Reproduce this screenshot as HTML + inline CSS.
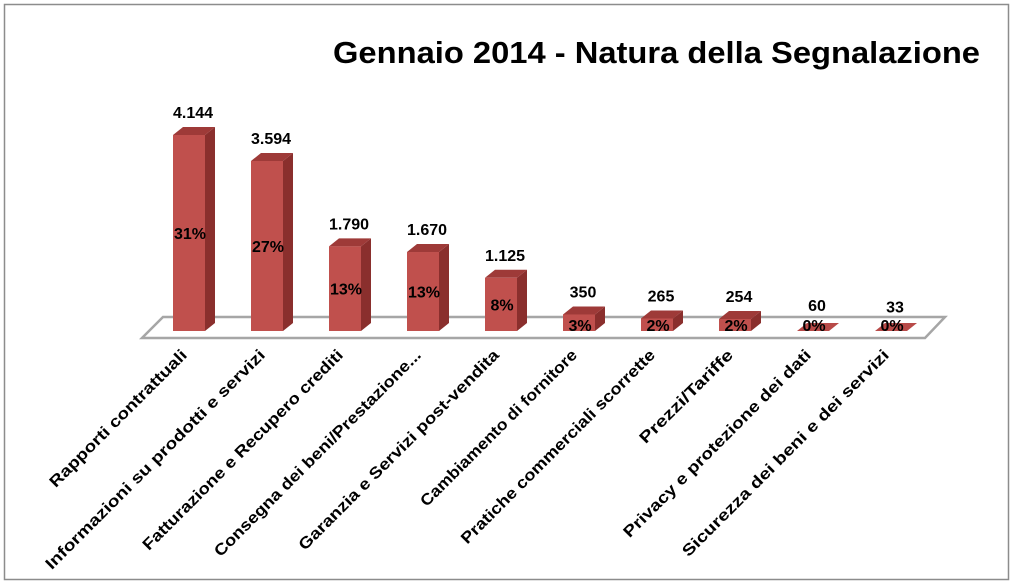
<!DOCTYPE html>
<html><head><meta charset="utf-8"><style>
html,body{margin:0;padding:0;background:#fff;}
svg{display:block;}
text{font-family:"Liberation Sans",sans-serif;font-weight:bold;fill:#000;}
</style></head><body>
<svg width="1014" height="588" viewBox="0 0 1014 588" xmlns="http://www.w3.org/2000/svg">
<rect x="4.5" y="4.5" width="1004" height="575" fill="#fff" stroke="#8c8c8c" stroke-width="1.5"/>
<text x="980" y="63" text-anchor="end" font-size="31" textLength="647" lengthAdjust="spacingAndGlyphs">Gennaio 2014 - Natura della Segnalazione</text>
<polygon points="163,317 945,317 925,338 142,338" fill="#fff" stroke="#a6a6a6" stroke-width="2.5"/>
<g id="bars"></g>
<g id="labels"></g>
</svg>
<script>
var vals=[4144,3594,1790,1670,1125,350,265,254,60,33];
var vl=["4.144","3.594","1.790","1.670","1.125","350","265","254","60","33"];
var pc=["31%","27%","13%","13%","8%","3%","2%","2%","0%","0%"];
var names=["Rapporti contrattuali","Informazioni su prodotti e servizi","Fatturazione e Recupero crediti","Consegna dei beni/Prestazione...","Garanzia e Servizi post-vendita","Cambiamento di fornitore","Pratiche commerciali scorrette","Prezzi/Tariffe","Privacy e protezione dei dati","Sicurezza dei beni e dei servizi"];
var ns="http://www.w3.org/2000/svg",g=document.getElementById("bars"),L=document.getElementById("labels");
function el(t,a,p,txt){var e=document.createElementNS(ns,t);for(var k in a)e.setAttribute(k,a[k]);if(txt)e.textContent=txt;p.appendChild(e);return e;}
for(var i=0;i<10;i++){
 var x=173+i*78,w=32,b=331,h=Math.max(vals[i]*0.0473,1),t=b-h,dx=10,dy=8;
 if(i>=8){
  el("polygon",{points:(x)+","+b+" "+(x+w)+","+b+" "+(x+w+dx)+","+(b-dy)+" "+(x+dx)+","+(b-dy),fill:"#b84a48"},g);
 } else {
 el("polygon",{points:(x+w)+","+t+" "+(x+w+dx)+","+(t-dy)+" "+(x+w+dx)+","+(b-dy)+" "+(x+w)+","+b,fill:"#8a2f2d"},g);
 el("polygon",{points:x+","+t+" "+(x+dx)+","+(t-dy)+" "+(x+w+dx)+","+(t-dy)+" "+(x+w)+","+t,fill:"#9e3a38"},g);
 el("rect",{x:x,y:t,width:w,height:h,fill:"#c0504d"},g);
 }
 var cx=x+w/2+4;
 el("text",{x:cx,y:t-dy-9,"text-anchor":"middle","font-size":"16"},g,vl[i]);
 var py=(i>=5)?b+0:(t+b)/2+6;
 el("text",{x:x+w/2+1,y:py,"text-anchor":"middle","font-size":"16"},g,pc[i]);
 var lx=x+w/2-1,ly=356;
 el("text",{x:lx,y:ly,"text-anchor":"end","font-size":"16",transform:"rotate(-45 "+lx+" "+ly+")",textLength:(names[i].length*8.9).toFixed(0),lengthAdjust:"spacingAndGlyphs"},L,names[i]);
}
</script>
</body></html>
